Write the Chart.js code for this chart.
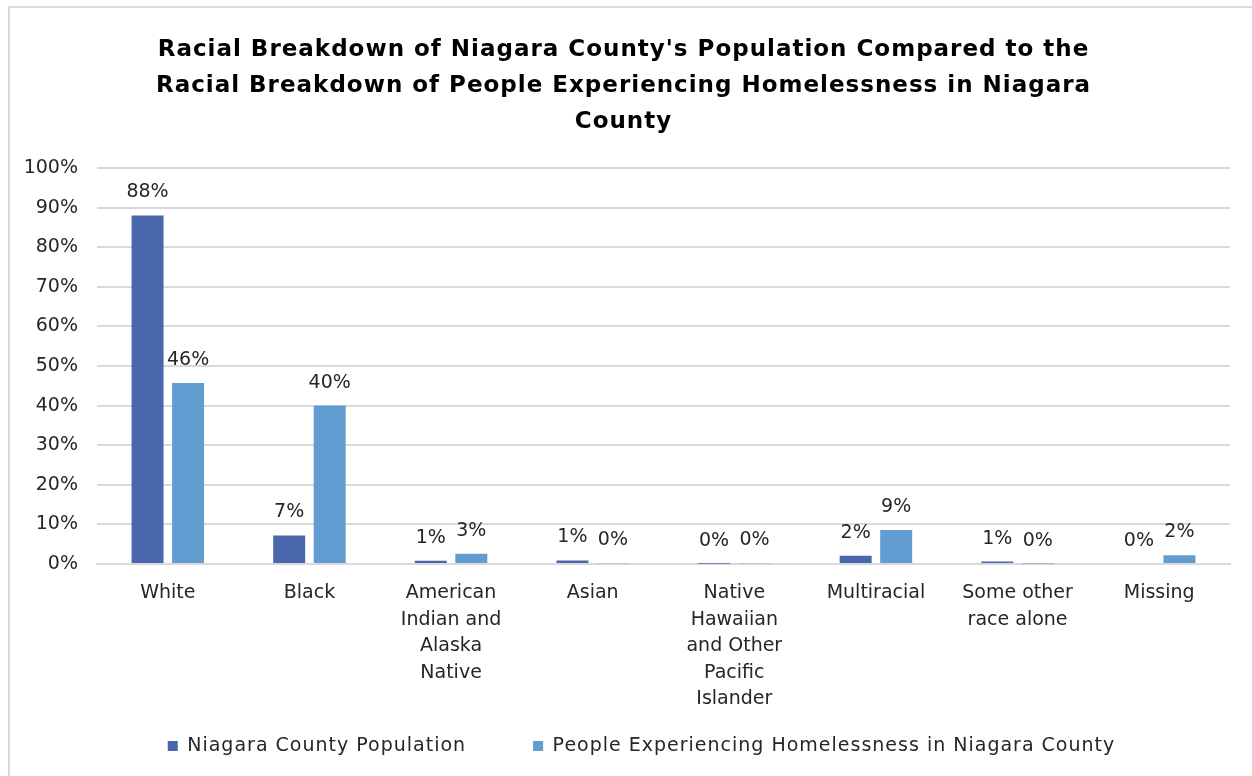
<!DOCTYPE html>
<html>
<head>
<meta charset="utf-8">
<script src="https://cdn.jsdelivr.net/npm/chart.js@4.4.1/dist/chart.umd.min.js"></script>
<style>
  html, body { margin: 0; padding: 0; background: #ffffff; }
  #wrap { width: 1252px; height: 776px; }
</style>
</head>
<body>
<div id="wrap"><canvas id="c" width="1252" height="776"></canvas></div>
<script>
// ---- data ----
const categories = [
  ['White'],
  ['Black'],
  ['American', 'Indian and', 'Alaska', 'Native'],
  ['Asian'],
  ['Native', 'Hawaiian', 'and Other', 'Pacific', 'Islander'],
  ['Multiracial'],
  ['Some other', 'race alone'],
  ['Missing']
];
const countyPopulation = [88.0, 7.2, 0.8, 0.9, 0.05, 2.1, 0.6, 0.0];
const homelessPopulation = [45.7, 40.0, 2.6, 0.2, 0.2, 8.6, 0.1, 2.2];
const seriesNames = ['Niagara County Population', 'People Experiencing Homelessness in Niagara County'];
const titleLines = [
  "Racial Breakdown of Niagara County's Population Compared to the",
  "Racial Breakdown of People Experiencing Homelessness in Niagara",
  "County"
];
const yTicks = { min: 0, max: 100, step: 10 };

const FONT = "'DejaVu Sans', sans-serif";
const TEXT = '#262626';
const FS = 19;
Chart.defaults.font.family = FONT;
Chart.defaults.color = TEXT;

const frame = {
  id: 'frame',
  beforeDraw(chart) {
    const ctx = chart.ctx;
    ctx.save();
    ctx.fillStyle = '#ffffff';
    ctx.fillRect(0, 0, chart.width, chart.height);
    ctx.strokeStyle = '#d9d9d9';
    ctx.lineWidth = 2;
    ctx.beginPath();
    ctx.moveTo(9, chart.height);
    ctx.lineTo(9, 7);
    ctx.lineTo(chart.width, 7);
    ctx.stroke();
    ctx.restore();
  }
};

const valueLabels = {
  id: 'valueLabels',
  afterDatasetsDraw(chart) {
    const ctx = chart.ctx;
    ctx.save();
    ctx.font = FS + 'px ' + FONT;
    ctx.fillStyle = TEXT;
    ctx.textAlign = 'center';
    ctx.textBaseline = 'middle';
    chart.data.datasets.forEach((ds, di) => {
      const meta = chart.getDatasetMeta(di);
      meta.data.forEach((el, i) => {
        ctx.fillText(Math.round(ds.data[i]) + '%', el.x, el.y - 23);
      });
    });
    ctx.restore();
  }
};

// letter spacing (to approximate the wide original face) and a compact legend
const LEG_PAD = 67, LEG_H = 65, LEG_CENTER_Y = 746, LEG_SHIFT_X = 18;
function withSpacing(ctx, sp, fn) {
  const prev = ctx.letterSpacing;
  if (prev !== undefined) ctx.letterSpacing = sp;
  try { fn(); } finally { if (prev !== undefined) ctx.letterSpacing = prev; }
}
const textTweak = {
  id: 'textTweak',
  beforeLayout(chart) {
    const lg = chart.legend;
    if (lg && !lg.__tweaked) {
      lg.__tweaked = true;
      const fit = lg.fit, draw = lg.draw;
      lg.fit = function () {
        withSpacing(this.ctx, '1px', () => fit.call(this));
        this.height = LEG_H;
      };
      lg.draw = function () {
        const t = this.top, l = this.left, r = this.right;
        this.top = LEG_CENTER_Y - LEG_PAD - FS / 2;
        this.left = l + LEG_SHIFT_X; this.right = r + LEG_SHIFT_X;
        withSpacing(this.ctx, '1px', () => draw.call(this));
        this.top = t; this.left = l; this.right = r;
      };
    }
    const tb = chart.titleBlock;
    if (tb && !tb.__tweaked) {
      tb.__tweaked = true;
      const tdraw = tb.draw;
      tb.draw = function () { withSpacing(this.ctx, '1px', () => tdraw.call(this)); };
    }
  }
};

new Chart(document.getElementById('c'), {
  type: 'bar',
  data: {
    labels: categories,
    datasets: [
      { label: seriesNames[0], data: countyPopulation, backgroundColor: '#4A66AC',
        categoryPercentage: 0.572, barPercentage: 0.79 },
      { label: seriesNames[1], data: homelessPopulation, backgroundColor: '#629DD1',
        categoryPercentage: 0.572, barPercentage: 0.79 }
    ]
  },
  options: {
    responsive: false,
    animation: false,
    devicePixelRatio: 1,
    layout: { padding: { left: 17, right: 22, top: 0, bottom: 0 } },
    plugins: {
      title: {
        display: true,
        text: titleLines,
        color: '#000000',
        font: { size: 23, weight: 'bold', lineHeight: 1.565 },
        padding: { top: 32, bottom: 28 }
      },
      legend: {
        position: 'bottom',
        labels: {
          boxWidth: 10, boxHeight: 10, padding: LEG_PAD,
          font: { size: FS }, color: TEXT
        }
      },
      tooltip: { enabled: false }
    },
    scales: {
      x: {
        grid: { display: false, drawTicks: false },
        border: { display: true, color: '#d9d9d9', width: 2 },
        ticks: { font: { size: FS, lineHeight: 1.395 }, color: TEXT, padding: 16, maxRotation: 0, autoSkip: false },
        afterFit(scale) { scale.height = 147; }
      },
      y: {
        min: yTicks.min, max: yTicks.max,
        grid: { color: '#d9d9d9', lineWidth: 2, drawTicks: false },
        border: { display: false },
        ticks: { stepSize: yTicks.step, font: { size: FS }, color: TEXT, padding: 19,
                 callback: v => v + '%' },
        afterFit(scale) { scale.width = 80; }
      }
    }
  },
  plugins: [frame, valueLabels, textTweak]
});
</script>
</body>
</html>
